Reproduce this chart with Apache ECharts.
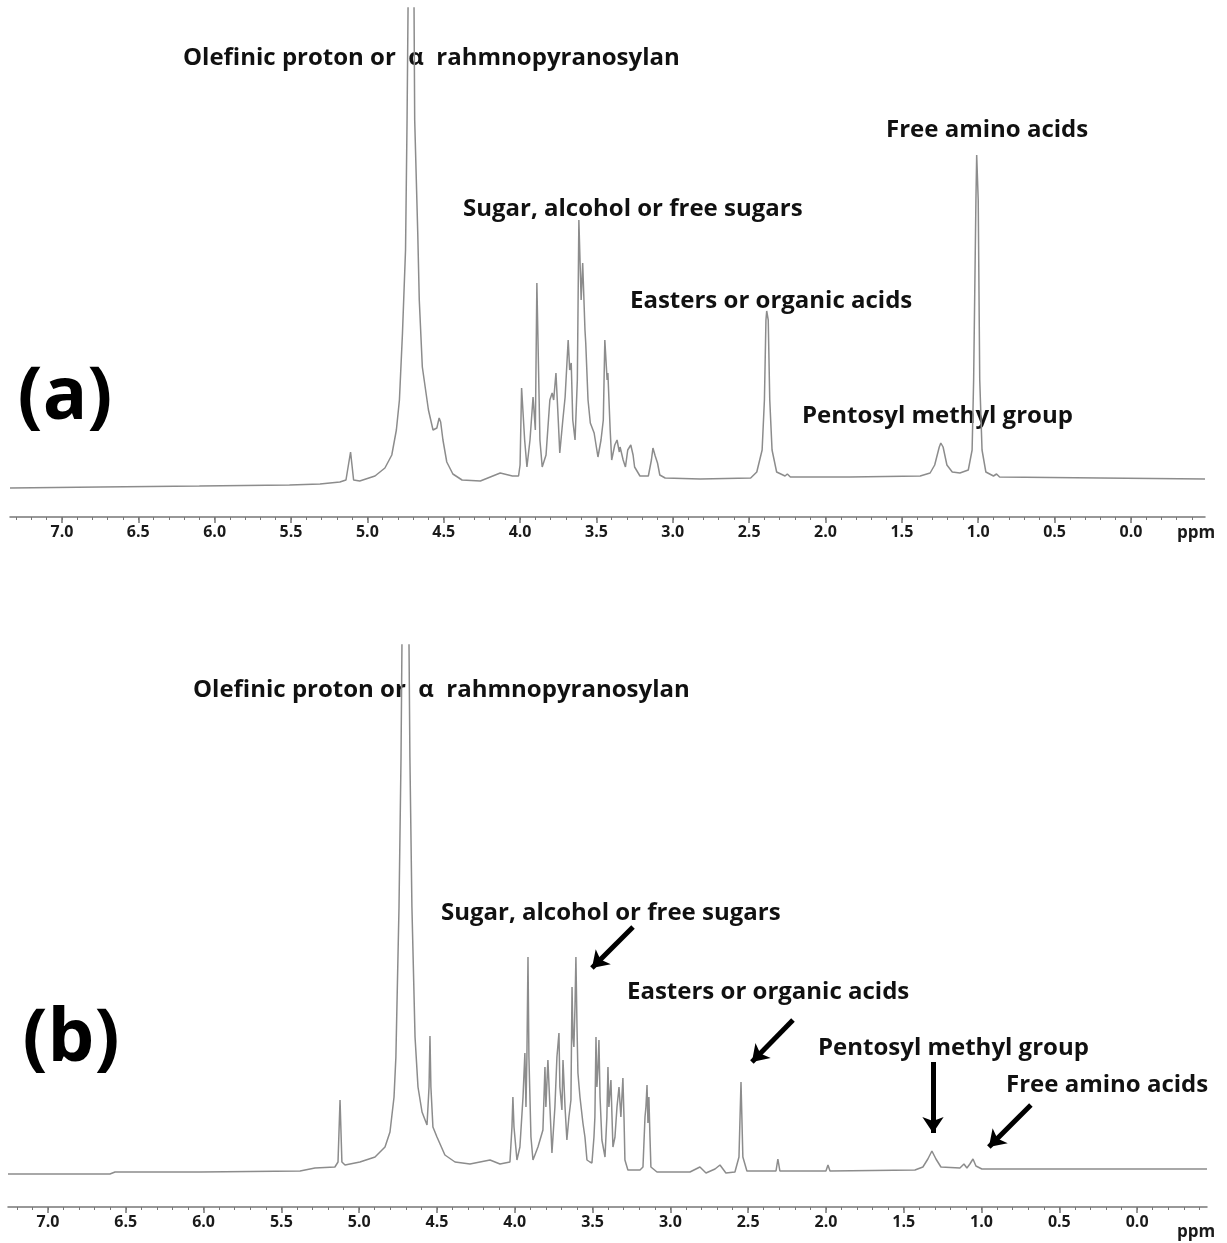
<!DOCTYPE html>
<html>
<head>
<meta charset="utf-8">
<script src="https://cdn.jsdelivr.net/npm/echarts@6/dist/echarts.min.js"></script>
<style>
  html, body { margin: 0; padding: 0; background: #fff; }
  #chart { width: 1227px; height: 1243px; }
</style>
</head>
<body>
<div id="chart"></div>
<script>
// 刻度标签 (ppm)
const TICK_VALUES = [7.0, 6.5, 6.0, 5.5, 5.0, 4.5, 4.0, 3.5, 3.0, 2.5, 2.0, 1.5, 1.0, 0.5, 0.0];

// 谱图 (a)：化学位移 / 强度
const specA_ppm = [7.34, 6.75, 6.10, 5.51, 5.31, 5.18, 5.14, 5.11, 5.09, 5.05, 4.95, 4.885, 4.84, 4.81, 4.79, 4.77, 4.75, 4.74, 4.71, 4.69,
  4.67, 4.66, 4.64, 4.60, 4.57, 4.545, 4.53, 4.52, 4.505, 4.48, 4.44, 4.38, 4.26, 4.13, 4.05, 4.01, 4.00, 3.99, 3.97, 3.955,
  3.935, 3.915, 3.90, 3.89, 3.87, 3.855, 3.83, 3.805, 3.79, 3.78, 3.765, 3.75, 3.74, 3.72, 3.705, 3.685, 3.675, 3.665, 3.655, 3.64,
  3.625, 3.615, 3.60, 3.59, 3.575, 3.57, 3.555, 3.54, 3.53, 3.515, 3.49, 3.47, 3.455, 3.445, 3.43, 3.425, 3.41, 3.40, 3.38, 3.365,
  3.35, 3.345, 3.325, 3.31, 3.295, 3.275, 3.26, 3.25, 3.215, 3.16, 3.14, 3.13, 3.115, 3.10, 3.085, 3.05, 2.82, 2.49, 2.45, 2.415,
  2.40, 2.39, 2.385, 2.375, 2.365, 2.35, 2.32, 2.265, 2.25, 2.23, 1.84, 1.38, 1.315, 1.285, 1.255, 1.245, 1.23, 1.205, 1.17, 1.12,
  1.065, 1.04, 1.03, 1.015, 1.01, 1.00, 0.99, 0.975, 0.95, 0.90, 0.88, 0.86, 0.20, -0.485];
const specA_int = [29, 30, 31, 32, 33, 35, 37, 65, 37, 36, 41, 49, 62, 87, 117, 184, 267, 397, 917, 397,
  284, 217, 150, 107, 87, 89, 99, 95, 77, 55, 43, 37, 36, 44, 41, 41, 52, 129, 77, 50,
  77, 120, 87, 234, 77, 50, 62, 117, 124, 117, 144, 97, 64, 97, 120, 177, 147, 154, 97, 77,
  137, 297, 217, 254, 187, 174, 117, 94, 92, 84, 60, 77, 97, 177, 137, 144, 87, 57, 72, 77,
  65, 70, 57, 50, 67, 72, 62, 50, 41, 41, 57, 69, 61, 54, 42, 39, 38, 39, 45, 67,
  117, 197, 206, 197, 117, 67, 45, 41, 43, 40, 40, 41, 44, 52, 70, 74, 70, 52, 45, 44,
  47, 67, 137, 317, 362, 317, 137, 67, 45, 41, 43, 40, 39, 38];

// 谱图 (b)
const specB_ppm = [7.257, 6.602, 6.569, 6.023, 5.380, 5.284, 5.156, 5.136, 5.123, 5.111, 5.091, 4.995, 4.898, 4.834, 4.802, 4.776, 4.764, 4.744, 4.731, 4.702,
  4.674, 4.661, 4.641, 4.622, 4.596, 4.564, 4.551, 4.545, 4.539, 4.526, 4.500, 4.449, 4.384, 4.288, 4.159, 4.095, 4.031, 4.018, 4.012, 4.005,
  3.986, 3.967, 3.947, 3.935, 3.928, 3.922, 3.915, 3.909, 3.896, 3.883, 3.851, 3.819, 3.806, 3.800, 3.787, 3.774, 3.761, 3.742, 3.729, 3.716,
  3.710, 3.697, 3.690, 3.677, 3.665, 3.652, 3.639, 3.632, 3.626, 3.620, 3.613, 3.607, 3.600, 3.594, 3.581, 3.562, 3.549, 3.536, 3.517, 3.504,
  3.491, 3.485, 3.478, 3.472, 3.465, 3.459, 3.452, 3.440, 3.420, 3.408, 3.401, 3.395, 3.382, 3.375, 3.369, 3.356, 3.343, 3.330, 3.318, 3.305,
  3.298, 3.292, 3.273, 3.195, 3.176, 3.163, 3.157, 3.150, 3.144, 3.138, 3.131, 3.125, 3.086, 2.874, 2.810, 2.771, 2.713, 2.681, 2.643, 2.585,
  2.559, 2.546, 2.534, 2.508, 2.321, 2.309, 2.296, 2.000, 1.987, 1.974, 1.428, 1.377, 1.345, 1.319, 1.293, 1.261, 1.139, 1.113, 1.094, 1.075,
  1.055, 1.036, 0.998, -0.449];
const specB_int = [33, 33, 35, 35, 36, 39, 40, 45, 107, 45, 42, 45, 50, 60, 75, 110, 150, 300, 450, 1000,
  450, 300, 170, 120, 95, 82, 120, 171, 120, 80, 70, 52, 45, 43, 47, 43, 45, 80, 110, 80,
  47, 60, 110, 154, 100, 150, 250, 150, 70, 47, 60, 77, 140, 100, 147, 100, 54, 100, 150, 174,
  120, 97, 147, 100, 67, 90, 107, 220, 170, 160, 200, 250, 180, 134, 110, 84, 70, 47, 45, 44,
  70, 90, 170, 120, 140, 167, 110, 67, 50, 90, 140, 100, 127, 90, 60, 70, 100, 120, 90, 129,
  90, 47, 37, 37, 40, 90, 100, 122, 84, 110, 70, 40, 35, 35, 40, 34, 38, 42, 34, 35,
  50, 125, 50, 36, 36, 48, 36, 36, 42, 36, 37, 40, 48, 56, 48, 40, 39, 43, 39, 43,
  48, 41, 38, 38];

const minorTicks = [];
for (let i = -4; i <= 73; i++) minorTicks.push(i / 10);

const pair = (xs, ys) => xs.map((x, i) => [x, ys[i]]);

const chart = echarts.init(document.getElementById("chart"));

const lineColor = "#8c8c8c";
const axisColor = "#777";
const textFont = "bold 24px 'Open Sans'";

// 主刻度 + 标签
const majorAxis = (g, min, max) => ({
  type: "value",
  gridIndex: g,
  inverse: true,
  min: min,
  max: max,
  position: "bottom",
  axisLine: { show: true, lineStyle: { color: axisColor, width: 1.5 } },
  axisTick: { show: true, customValues: TICK_VALUES, length: 6, lineStyle: { color: axisColor, width: 1.5 } },
  axisLabel: {
    customValues: TICK_VALUES,
    formatter: (v) => v.toFixed(1),
    color: "#1a1a1a",
    fontWeight: "bold",
    fontSize: 16,
    fontFamily: "Open Sans",
    margin: 7,
  },
  splitLine: { show: false },
});
// 次刻度
const minorAxis = (g, min, max) => ({
  type: "value",
  gridIndex: g,
  inverse: true,
  min: min,
  max: max,
  position: "bottom",
  axisLine: { show: false },
  axisTick: { show: true, customValues: minorTicks, length: 3, lineStyle: { color: axisColor, width: 1 } },
  axisLabel: { show: false },
  splitLine: { show: false },
});

const label = (text, x, y) => ({
  type: "text",
  x: x,
  y: y,
  style: { text: text, font: textFont, fill: "#111", textVerticalAlign: "middle" },
});
const bigLabel = (text, x, y) => ({
  type: "text",
  x: x,
  y: y,
  style: { text: text, font: "bold 74px 'Open Sans'", fill: "#000", textAlign: "center", textVerticalAlign: "middle" },
});
const ppmLabel = (y) => ({
  type: "text",
  x: 1196,
  y: y,
  style: { text: "ppm", font: "bold 17px 'Open Sans'", fill: "#1a1a1a", textAlign: "center", textVerticalAlign: "middle" },
});

const option = {
  animation: false,
  backgroundColor: "#fff",
  grid: [
    { left: 10, right: 22, top: 8, bottom: 726 },
    { left: 8, right: 20, top: 645, bottom: 36 },
  ],
  xAxis: [
    majorAxis(0, -0.485, 7.34),
    minorAxis(0, -0.485, 7.34),
    majorAxis(1, -0.449, 7.257),
    minorAxis(1, -0.449, 7.257),
  ],
  yAxis: [
    { type: "value", gridIndex: 0, min: 0, max: 509, show: false, splitLine: { show: false } },
    { type: "value", gridIndex: 1, min: 0, max: 562, show: false, splitLine: { show: false } },
  ],
  series: [
    {
      name: "a",
      type: "line",
      xAxisIndex: 0,
      yAxisIndex: 0,
      data: pair(specA_ppm, specA_int),
      symbol: "none",
      clip: true,
      lineStyle: { color: lineColor, width: 1.5 },
    },
    {
      name: "b",
      type: "line",
      xAxisIndex: 2,
      yAxisIndex: 1,
      data: pair(specB_ppm, specB_int),
      symbol: "none",
      clip: true,
      lineStyle: { color: lineColor, width: 1.5 },
      // 箭头标注
      markLine: {
        silent: true,
        symbol: ["none", "arrow"],
        symbolSize: 16,
        label: { show: false },
        lineStyle: { color: "#000", width: 5, type: "solid" },
        data: [
          [{ coord: [3.24, 280] }, { coord: [3.504, 239] }],
          [{ coord: [2.212, 187] }, { coord: [2.476, 145] }],
          [{ coord: [1.312, 145] }, { coord: [1.312, 74] }],
          [{ coord: [0.683, 102] }, { coord: [0.953, 60] }],
        ],
      },
    },
  ],
  graphic: [
    label("Olefinic proton or  \u03b1  rahmnopyranosylan", 183, 58),
    label("Sugar, alcohol or free sugars", 463, 209),
    label("Easters or organic acids", 630, 301),
    label("Free amino acids", 886, 130),
    label("Pentosyl methyl group", 802, 416),
    bigLabel("(a)", 65, 398),
    ppmLabel(533),
    label("Olefinic proton or  \u03b1  rahmnopyranosylan", 193, 690),
    label("Sugar, alcohol or free sugars", 441, 913),
    label("Easters or organic acids", 627, 992),
    label("Pentosyl methyl group", 818, 1048),
    label("Free amino acids", 1006, 1085),
    bigLabel("(b)", 71, 1040),
    ppmLabel(1232),
  ],
};

chart.setOption(option);
window.addEventListener("resize", chart.resize);
</script>
</body>
</html>
